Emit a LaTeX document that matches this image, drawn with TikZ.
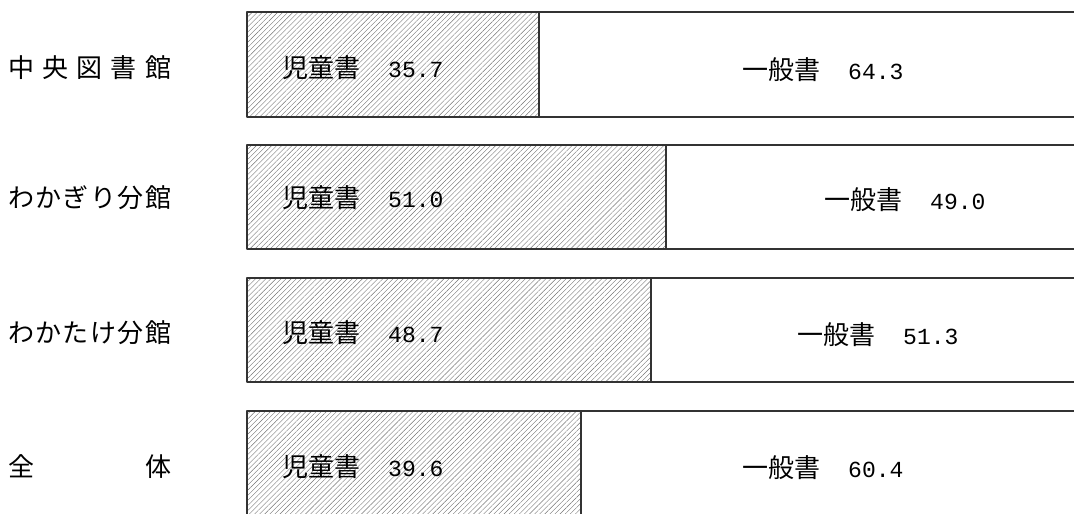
\documentclass[tikz,border=0pt]{standalone}
\usepackage{fontspec}
\setmainfont{Noto Sans CJK JP}
\newfontfamily\numfont{Liberation Mono}
\usetikzlibrary{patterns.meta}
\newcommand{\bartext}[2]{#1\hspace{28pt}{\numfont\fontsize{23}{23}\selectfont #2}}
\newcommand{\spreadname}[1]{\makebox[163pt][l]{#1}}

\begin{document}
\begin{tikzpicture}[x=1pt,y=-1pt,font=\fontsize{26}{26}\selectfont, line join=round,
	hatch/.style={pattern={Lines[angle=45,distance=3.6pt,line width=.4pt]},pattern color=black!55},
	barline/.style={line width=1.2pt,draw=black!80},
	rowname/.style={anchor=west,inner sep=0pt},
	valtext/.style={anchor=west,inner sep=0pt}]
	\useasboundingbox (0,0) rectangle (1074,514);
	\clip (0,0) rectangle (1074,514);
	\def\xl{247}
	\def\xr{1090}
	%Hàng 1
	\fill[hatch] (\xl,12) rectangle (539,117);
	\draw[barline] (\xr,12)--(\xl,12)--(\xl,117)--(\xr,117) (539,12)--(539,117);
	%Hàng 2
	\fill[hatch] (\xl,145) rectangle (666,249);
	\draw[barline] (\xr,145)--(\xl,145)--(\xl,249)--(\xr,249) (666,145)--(666,249);
	%Hàng 3
	\fill[hatch] (\xl,278) rectangle (651,382);
	\draw[barline] (\xr,278)--(\xl,278)--(\xl,382)--(\xr,382) (651,278)--(651,382);
	%Hàng 4
	\fill[hatch] (\xl,411) rectangle (581,530);
	\draw[barline] (\xr,411)--(\xl,411)--(\xl,530) (581,411)--(581,530);
	
	\node[rowname] (lib1) at (8,68) {\spreadname{中\hfill 央\hfill 図\hfill 書\hfill 館}};
	\node[rowname] (lib2) at (8,198) {\spreadname{わ\hfill か\hfill ぎ\hfill り\hfill 分\hfill 館}};
	\node[rowname] (lib3) at (8,333) {\spreadname{わ\hfill か\hfill た\hfill け\hfill 分\hfill 館}};
	\node[rowname] (lib4) at (8,467) {\spreadname{全\hfill 体}};
	
	\node[valtext] (kid1) at (282,68) {\bartext{児童書}{35.7}};
	\node[valtext] (kid2) at (282,198) {\bartext{児童書}{51.0}};
	\node[valtext] (kid3) at (282,333) {\bartext{児童書}{48.7}};
	\node[valtext] (kid4) at (282,467) {\bartext{児童書}{39.6}};
	
	\node[valtext] (gen1) at (742,70) {\bartext{一般書}{64.3}};
	\node[valtext] (gen2) at (824,200) {\bartext{一般書}{49.0}};
	\node[valtext] (gen3) at (797,335) {\bartext{一般書}{51.3}};
	\node[valtext] (gen4) at (742,468) {\bartext{一般書}{60.4}};
\end{tikzpicture}
\end{document}
